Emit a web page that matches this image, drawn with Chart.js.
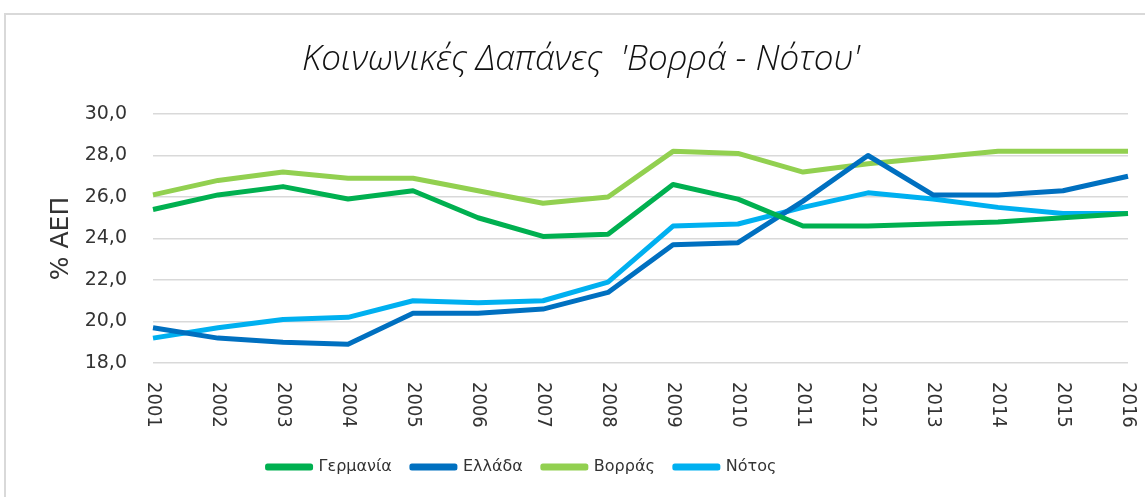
<!DOCTYPE html>
<html>
<head>
<meta charset="utf-8">
<script src="https://cdn.jsdelivr.net/npm/chart.js@4.4.0/dist/chart.umd.min.js"></script>
<style>
  html, body { margin: 0; padding: 0; background: #fff; }
  canvas { display: block; }
</style>
</head>
<body>
<canvas id="spending-chart" width="1145" height="497"></canvas>
<script>
// Social spending as % of GDP, 2001-2016
const years = ['2001', '2002', '2003', '2004', '2005', '2006', '2007', '2008',
  '2009', '2010', '2011', '2012', '2013', '2014', '2015', '2016'];

const germany = [25.4, 26.1, 26.5, 25.9, 26.3, 25.0, 24.1, 24.2, 26.6, 25.9, 24.6, 24.6, 24.7, 24.8, 25.0, 25.2];
const greece = [19.7, 19.2, 19.0, 18.9, 20.4, 20.4, 20.6, 21.4, 23.7, 23.8, 25.8, 28.0, 26.1, 26.1, 26.3, 27.0];
const north = [26.1, 26.8, 27.2, 26.9, 26.9, 26.3, 25.7, 26.0, 28.2, 28.1, 27.2, 27.6, 27.9, 28.2, 28.2, 28.2];
const south = [19.2, 19.7, 20.1, 20.2, 21.0, 20.9, 21.0, 21.9, 24.6, 24.7, 25.5, 26.2, 25.9, 25.5, 25.2, 25.2];

const seriesNames = ['Γερμανία', 'Ελλάδα', 'Βορράς', 'Νότος'];
const seriesColors = ['#00B050', '#0070C0', '#92D050', '#00B0F0'];

const yTicks = { min: 18, max: 30, step: 2 };

const textColor = '#333333';
const gridColor = '#d9d9d9';

function makeSeries(i, values) {
  return {
    label: seriesNames[i],
    data: values,
    borderColor: seriesColors[i],
    backgroundColor: seriesColors[i],
    borderWidth: 5,
    pointRadius: 0,
    pointHoverRadius: 0,
    tension: 0,
    borderJoinStyle: 'round',
  };
}

// light frame around the chart, white background
const frame = {
  id: 'frame',
  beforeDraw(chart) {
    const ctx = chart.ctx;
    ctx.save();
    ctx.fillStyle = '#fff';
    ctx.fillRect(0, 0, chart.width, chart.height);
    ctx.strokeStyle = '#d9d9d9';
    ctx.lineWidth = 2;
    ctx.beginPath();
    ctx.moveTo(5, chart.height);
    ctx.lineTo(5, 14);
    ctx.lineTo(chart.width, 14);
    ctx.stroke();
    ctx.restore();
  },
};

// move title and legend a bit off the centre
const nudge = {
  id: 'nudge',
  afterLayout(chart) {
    const dxTitle = 7;
    chart.titleBlock.left += dxTitle;
    chart.titleBlock.right += dxTitle;
    const dxLegend = -52;
    chart.legend.left += dxLegend;
    chart.legend.right += dxLegend;
  },
};

// year labels turned 90deg clockwise, reading downwards
const yearLabels = {
  id: 'yearLabels',
  afterDraw(chart) {
    const xs = chart.scales.x;
    const ctx = chart.ctx;
    ctx.save();
    ctx.font = '20px "DejaVu Sans Condensed", "DejaVu Sans"';
    ctx.fillStyle = textColor;
    ctx.textAlign = 'left';
    ctx.textBaseline = 'middle';
    xs.ticks.forEach((t, i) => {
      ctx.save();
      ctx.translate(xs.getPixelForTick(i), xs.top + 19);
      ctx.rotate(Math.PI / 2);
      ctx.fillText(xs.getLabelForValue(t.value), 0, 0);
      ctx.restore();
    });
    ctx.restore();
  },
};

new Chart(document.getElementById('spending-chart'), {
  type: 'line',
  data: {
    labels: years,
    datasets: [
      makeSeries(0, germany),
      makeSeries(1, greece),
      makeSeries(2, north),
      makeSeries(3, south),
    ],
  },
  options: {
    responsive: false,
    animation: false,
    layout: { padding: { left: 20, right: 17, top: 0, bottom: 12 } },
    plugins: {
      tooltip: { enabled: false },
      title: {
        display: true,
        text: "Κοινωνικές Δαπάνες  'Βορρά - Νότου'",
        color: '#111',
        font: { family: '"Open Sans", sans-serif', size: 35, style: 'italic', weight: 300 },
        padding: { top: 39, bottom: 33 },
      },
      legend: {
        position: 'bottom',
        labels: {
          color: textColor,
          font: { family: '"DejaVu Sans"', size: 16 },
          boxWidth: 43,
          boxHeight: 2,
          padding: 20,
        },
      },
    },
    scales: {
      x: {
        grid: { display: false },
        border: { display: false },
        ticks: { display: false },
        afterFit(scale) { scale.height = 76; },
      },
      y: {
        min: yTicks.min,
        max: yTicks.max,
        grid: { color: gridColor, lineWidth: 1.5, drawTicks: false },
        border: { display: false },
        ticks: {
          stepSize: yTicks.step,
          color: textColor,
          padding: 26,
          font: { family: '"DejaVu Sans"', size: 19 },
          callback: (v) => v.toFixed(1).replace('.', ','),
        },
        title: {
          display: true,
          text: '% ΑΕΠ',
          color: textColor,
          font: { family: '"DejaVu Sans"', size: 25 },
          padding: { top: 26, bottom: 0 },
        },
        afterFit(scale) { scale.width = 133; },
      },
    },
  },
  plugins: [frame, nudge, yearLabels],
});
</script>
</body>
</html>
